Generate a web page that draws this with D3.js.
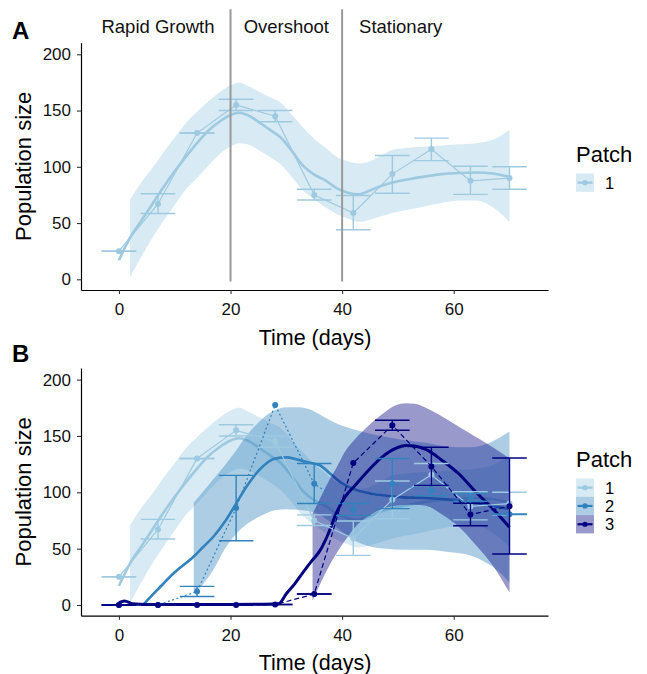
<!DOCTYPE html>
<html><head><meta charset="utf-8">
<script src="https://cdn.jsdelivr.net/npm/d3@7"></script>
<style>body{margin:0;background:#fff}</style>
</head><body><svg id="chart" width="647" height="674"></svg>
<script>
// ---------- DATA ----------
const days = [0, 7, 14, 21, 28, 35, 42, 49, 56, 63, 70];
const patch1Mean = [25, 67, 130, 155, 145, 75, 59, 93.5, 115.5, 87.5, 90];
const patch1Lo   = [25, 58.5, 130, 150, 140, 70.5, 44, 76.5, 105.5, 75.5, 80];
const patch1Hi   = [25, 76, 130, 160, 150, 80, 74.5, 110, 125.5, 100.5, 100];
const patch2Mean = [0, 0, 12, 86, 177.5, 107.5, 85, 107.5, 101.5, 95.5, 80.5];
const patch2Lo   = [0, 0, 7.5, 57, null, 90, 79.5, 85.5, 97, 92, 80.5];
const patch2Hi   = [0, 0, 16.5, 115, null, 125.5, 90, 130, 106, 99, 80.5];
const patch3Mean = [0, 0, 0, 0, 0.4, 9.7, 126, 159.5, 123, 80.3, 87.7];
const patch3Lo   = [0, 0, 0, 0, 0.4, 9.7, null, 155, 106, 70.3, 45.3];
const patch3Hi   = [0, 0, 0, 0, 0.4, 9.7, null, 164, 140, 90.3, 130.4];

// loess smooth fits with confidence bands
const p1SmoothDay = [0,2,4,6,8,10,12,14,16,18,20,21.5,23,25,27,29,31,33,35,37,39,41,43,45,47,49,52,55,58,61,64,67,70];
const p1Fit = [17,37,52,67,82,96,109,121,132,140,146,148,146,140,133,126,114,101,93,88,81,77,75.5,79,83,86,89,91.5,93.5,94.5,95,94,91];
const p1Hi  = [null,71,86,99,113,126,139,149,158,166,172.5,175,172,167,162,157,146,135,125,117,109,105,103,105,110,115,117,118,119,120,121,124,133];
const p1Lo  = [null,2,20,37,52,66,80,90,101,111,118,121,120,115,109,102,91,79,71,64,58,54,51,53,56,59,62,65,68,70,70,64,51];

const p2SmoothDay = [4.5,7,10,13.4,15,17,19,21,23,25,28,30,32,34,36,38,40,42,45,48,51,55,59,63,66,68,70];
const p2Fit = [1,14,29,43,51,61,74,90,106,119,130,131,129,126.5,124,116,108,103,99,97,95.5,95,93.5,91,89,87,85];
const p2Hi  = [null,null,null,91,100,112,124,137,151,162,173,175.5,175.5,174,169,163.5,159,156,152,149,146.5,144,140.5,140,143,148,154];
const p2Lo  = [null,null,null,10,18,32,50,63,72,78,84,85,84.5,83.5,80,73,65,58,52,50,49,49,47,44,37,30,20];

const p3SmoothDay = [0,1,2.5,5,10,15,20,25,28.6,30,31.5,33,34.7,36,37.5,39,40.5,42.3,44.7,47.1,49.5,51.5,53,55,58,61,64,67,70];
const p3Fit = [2,3.5,1,0.5,0.5,0.5,0.5,0.7,1,10,18.7,29,40,48,63,82,95.7,106,119.4,131,138.7,141.5,141,138,128,116,100,85.5,69];
const p3Hi  = [null,null,null,null,null,null,null,null,null,null,null,null,81,94,109,122,136,147,159,169,177,179,178.5,175,167,158,149,140,130];
const p3Lo  = [null,null,null,null,null,null,null,null,null,null,null,null,4,18,33,46,57,69,79,85,88,89,89,88,80,69,53,35,11];

const phaseLabels = ["Rapid Growth", "Overshoot", "Stationary"];
const phaseLabelX = [7, 30, 50.5];
const phaseBreaks = [20, 40];
const xTicks = [0, 20, 40, 60];
const yTicks = [0, 50, 100, 150, 200];
const patchNames = ["1", "2", "3"];
const patchColors = ["#9ecae1", "#3182bd", "#000080"];

// ---------- SETUP ----------
const FONT = "'Liberation Sans', Arial, Helvetica, sans-serif";
const svg = d3.select("#chart");
const x = d3.scaleLinear().domain([-6.8, 76.9]).range([81, 548]);
const yDomain = [-9.5, 210.3];

const patches = [
  {name: patchNames[0], color: patchColors[0], mean: patch1Mean, lo: patch1Lo, hi: patch1Hi,
   sDay: p1SmoothDay, fit: p1Fit, sLo: p1Lo, sHi: p1Hi, dash: null, lw: 2.6},
  {name: patchNames[1], color: patchColors[1], mean: patch2Mean, lo: patch2Lo, hi: patch2Hi,
   sDay: p2SmoothDay, fit: p2Fit, sLo: p2Lo, sHi: p2Hi, dash: "2,2.5", lw: 2.6},
  {name: patchNames[2], color: patchColors[2], mean: patch3Mean, lo: patch3Lo, hi: patch3Hi,
   sDay: p3SmoothDay, fit: p3Fit, sLo: p3Lo, sHi: p3Hi, dash: "5,3", lw: 3}
];

function drawPanel(opts) {
  const y = d3.scaleLinear().domain(yDomain).range([opts.bottom, opts.top]);
  const g = svg.append("g");
  const ps = patches.slice(0, opts.n);

  // smooth ribbons + fit lines
  ps.forEach(p => {
    const sd = p.sDay.map((d, i) => ({d, f: p.fit[i], lo: p.sLo[i], hi: p.sHi[i]}));
    g.append("path").datum(sd)
      .attr("d", d3.area().defined(v => v.lo != null)
        .x(v => x(v.d)).y0(v => y(v.lo)).y1(v => y(v.hi)).curve(d3.curveMonotoneX))
      .attr("fill", p.color).attr("fill-opacity", 0.4);
    g.append("path").datum(sd)
      .attr("d", d3.line().x(v => x(v.d)).y(v => y(v.f)).curve(d3.curveMonotoneX))
      .attr("fill", "none").attr("stroke", p.color).attr("stroke-width", p.lw)
      .attr("stroke-linejoin", "round");
  });

  // observed data: errorbars, connecting lines, points
  ps.forEach(p => {
    const obs = days.map((d, i) => ({d, m: p.mean[i], lo: p.lo[i], hi: p.hi[i]}));
    const eb = obs.filter(o => o.lo != null);
    const w = 3.1;
    eb.forEach(o => {
      g.append("line").attr("x1", x(o.d)).attr("x2", x(o.d)).attr("y1", y(o.lo)).attr("y2", y(o.hi))
        .attr("stroke", p.color).attr("stroke-width", 1.4);
      [o.lo, o.hi].forEach(v => {
        g.append("line").attr("x1", x(o.d - w)).attr("x2", x(o.d + w)).attr("y1", y(v)).attr("y2", y(v))
          .attr("stroke", p.color).attr("stroke-width", 1.4);
      });
    });
    g.append("path").datum(obs)
      .attr("d", d3.line().x(o => x(o.d)).y(o => y(o.m)))
      .attr("fill", "none").attr("stroke", p.color).attr("stroke-width", 1.2)
      .attr("stroke-dasharray", p.dash);
    g.selectAll(null).data(obs).enter().append("circle")
      .attr("cx", o => x(o.d)).attr("cy", o => y(o.m)).attr("r", 3)
      .attr("fill", p.color);
  });

  // phase annotation (panel A)
  if (opts.phases) {
    phaseBreaks.forEach(b => {
      g.append("line").attr("x1", x(b)).attr("x2", x(b)).attr("y1", y(-2)).attr("y2", y(240))
        .attr("stroke", "#999").attr("stroke-width", 2);
    });
    phaseLabels.forEach((t, i) => {
      g.append("text").attr("x", x(phaseLabelX[i])).attr("y", y(219))
        .attr("text-anchor", "middle").attr("font-family", FONT).attr("font-size", 18.5)
        .attr("fill", "#111").text(t);
    });
  }

  // axes
  const xAxis = g.append("g").attr("transform", `translate(0,${opts.bottom})`)
    .call(d3.axisBottom(x).tickValues(xTicks).tickSize(4).tickPadding(9).tickSizeOuter(0));
  const yAxis = g.append("g").attr("transform", `translate(81,0)`)
    .call(d3.axisLeft(y).tickValues(yTicks).tickSize(4).tickPadding(6).tickSizeOuter(0));
  [xAxis, yAxis].forEach(a => {
    a.select(".domain").attr("stroke", "#000").attr("stroke-width", 1.2);
    a.selectAll(".tick line").attr("stroke", "#333").attr("stroke-width", 1.1);
    a.selectAll(".tick text").attr("font-family", FONT).attr("font-size", 17).attr("fill", "#111");
  });

  // titles
  g.append("text").attr("x", 315).attr("y", opts.bottom + 54.5).attr("text-anchor", "middle")
    .attr("font-family", FONT).attr("font-size", 21.5).attr("fill", "#000").text("Time (days)");
  const cy = (opts.top + opts.bottom) / 2;
  g.append("text").attr("transform", `translate(31,${cy}) rotate(-90)`).attr("text-anchor", "middle")
    .attr("font-family", FONT).attr("font-size", 22).attr("fill", "#000").text("Population size");
  g.append("text").attr("x", 12).attr("y", opts.letterY).attr("font-family", FONT)
    .attr("font-size", 24).attr("font-weight", "bold").attr("fill", "#000").text(opts.letter);

  // legend
  const lg = g.append("g");
  lg.append("text").attr("x", 576).attr("y", opts.legY).attr("font-family", FONT)
    .attr("font-size", 22).attr("fill", "#000").text("Patch");
  ps.forEach((p, i) => {
    const ky = opts.legY + 12 + i * 18.3;
    lg.append("rect").attr("x", 576).attr("y", ky).attr("width", 18).attr("height", 18.3)
      .attr("fill", p.color).attr("fill-opacity", 0.4);
    lg.append("line").attr("x1", 577.5).attr("x2", 592.5).attr("y1", ky + 9.15).attr("y2", ky + 9.15)
      .attr("stroke", p.color).attr("stroke-width", 2.2);
    lg.append("circle").attr("cx", 585).attr("cy", ky + 9.15).attr("r", 2.6).attr("fill", p.color);
    lg.append("text").attr("x", 605).attr("y", ky + 15).attr("font-family", FONT)
      .attr("font-size", 16.5).attr("fill", "#000").text(p.name);
  });
}

drawPanel({top: 42.7, bottom: 290, n: 1, phases: true, letter: "A", letterY: 38.5, legY: 161.5});
drawPanel({top: 368, bottom: 615.7, n: 3, phases: false, letter: "B", letterY: 362, legY: 466.5});
</script></body></html>
